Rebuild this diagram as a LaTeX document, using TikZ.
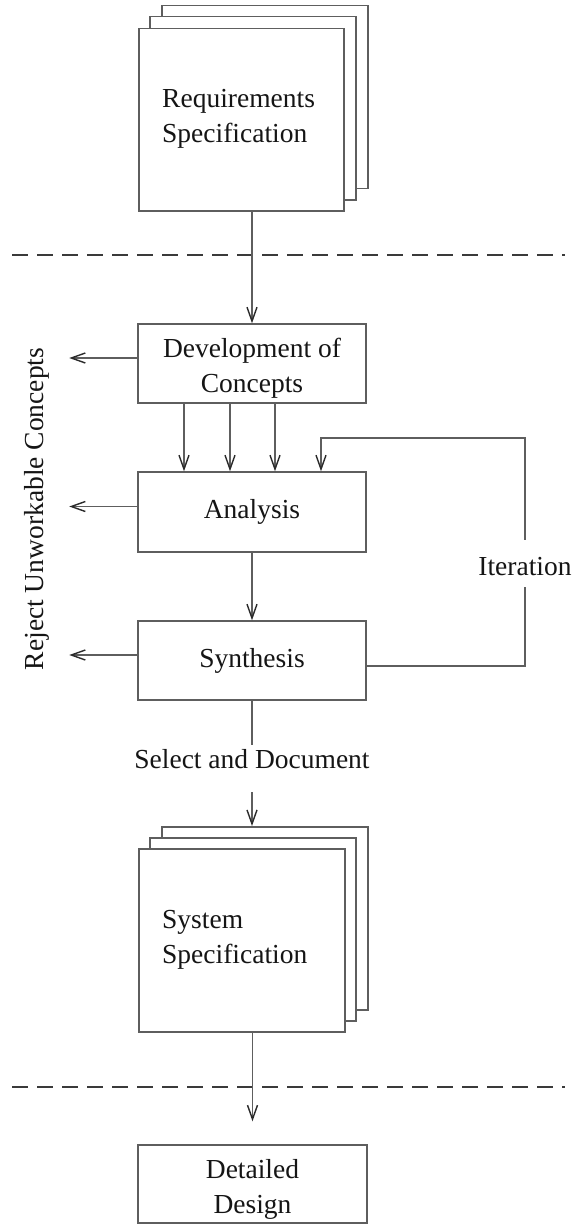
\documentclass[tikz,border=0pt]{standalone}
\usepackage{fontspec}
\setmainfont{Liberation Serif}
\usetikzlibrary{arrows.meta}
\definecolor{lncol}{HTML}{5E5E5E}
\definecolor{tipcol}{HTML}{2A2A2A}
\definecolor{dashcol}{HTML}{3A3A3A}
\definecolor{txtcol}{HTML}{151515}
\newcommand\dgfont{\fontsize{27.5}{35}\selectfont}
\begin{document}
\begin{tikzpicture}[x=1pt,y=-1pt,
  ln/.style={draw=lncol, line width=1.5pt},
  arr/.style={ln, -{Straight Barb[length=14pt,width=10pt,line width=1.4pt,color=tipcol]}},
  box/.style={ln, fill=white, minimum width=228pt, minimum height=79pt, inner sep=0pt, font=\dgfont, text=txtcol},
  page/.style={ln, fill=white, minimum width=206pt, minimum height=183pt, inner sep=0pt, anchor=north west},
  txt/.style={font=\dgfont, text=txtcol, inner sep=0pt},
  dashline/.style={draw=dashcol, line width=2pt, dash pattern=on 16pt off 9pt}]
\useasboundingbox (0,0) rectangle (577,1225);
\fill[white] (0,0) rectangle (577,1225);

% Requirements specification stack
\node[page] (reqback) at (161,5) {};
\node[page] (reqmid) at (149,16) {};
\node[page, minimum width=205pt, minimum height=182pt] (reqfront) at (138,28) {};
\node[txt, align=left, anchor=west] (reqtext) at (162,119) {Requirements\\Specification};

% dashed separators
\draw[dashline] (12,255) -- (565,255);
\draw[dashline] (12,1087) -- (565,1087);

% process boxes
\node[box] (dev) at (252,363.5) {};
\node[txt, align=center] (devtext) at ([yshift=-5pt]dev.center) {Development of\\Concepts};
\node[box, minimum height=80pt] (ana) at (252,512) {Analysis};
\node[box] (syn) at (252,660.5) {Synthesis};

% reject label
\node[txt, rotate=90] (rej) at (37,509) {Reject Unworkable Concepts};

% System specification stack
\node[page] (sysback) at (161,826) {};
\node[page] (sysmid) at (149,837) {};
\node[page, minimum width=206pt, minimum height=183pt] (sysfront) at (138,848) {};
\node[txt, align=left, anchor=west] (systext) at (162,940) {System\\Specification};

% detailed design
\node[box, minimum width=229pt, minimum height=78pt] (dd) at (252.5,1184) {};
\node[txt, align=center] (ddtext) at ([yshift=-5pt]dd.center) {Detailed\\Design};

% labels on connectors
\node[txt, anchor=base, text height=23pt, text depth=24pt] (sel) at (252,768) {Select and Document};
\node[txt, anchor=base, text height=35pt, text depth=12pt] (iter) at (525,575) {Iteration};
\coordinate (itcorner) at (321,438);

% connectors
\draw[arr] (dev.north |- reqfront.south) -- (dev.north);
\draw[arr] ([xshift=-68pt]dev.south) -- ([xshift=-68pt]ana.north);
\draw[arr] ([xshift=-22pt]dev.south) -- ([xshift=-22pt]ana.north);
\draw[arr] ([xshift=23pt]dev.south) -- ([xshift=23pt]ana.north);
\draw[arr] (ana.south) -- (syn.north);
\draw[ln] ([yshift=-5.5pt]syn.east) -| (iter.south);
\draw[arr] (iter.north) |- (itcorner) -- (itcorner |- ana.north);
\draw[ln] (syn.south) -- (sel.north);
\draw[arr] (sel.south) -- (sel.south |- sysback.north);
\draw[arr, shorten >=23pt] (dd.north |- sysfront.south) -- (dd.north);

% reject arrows
\draw[arr] ([yshift=5.5pt]dev.west) -- ++(-68,0);
\draw[arr] ([yshift=5.5pt]ana.west) -- ++(-68,0);
\draw[arr] ([yshift=5.5pt]syn.west) -- ++(-68,0);
\end{tikzpicture}
\end{document}
